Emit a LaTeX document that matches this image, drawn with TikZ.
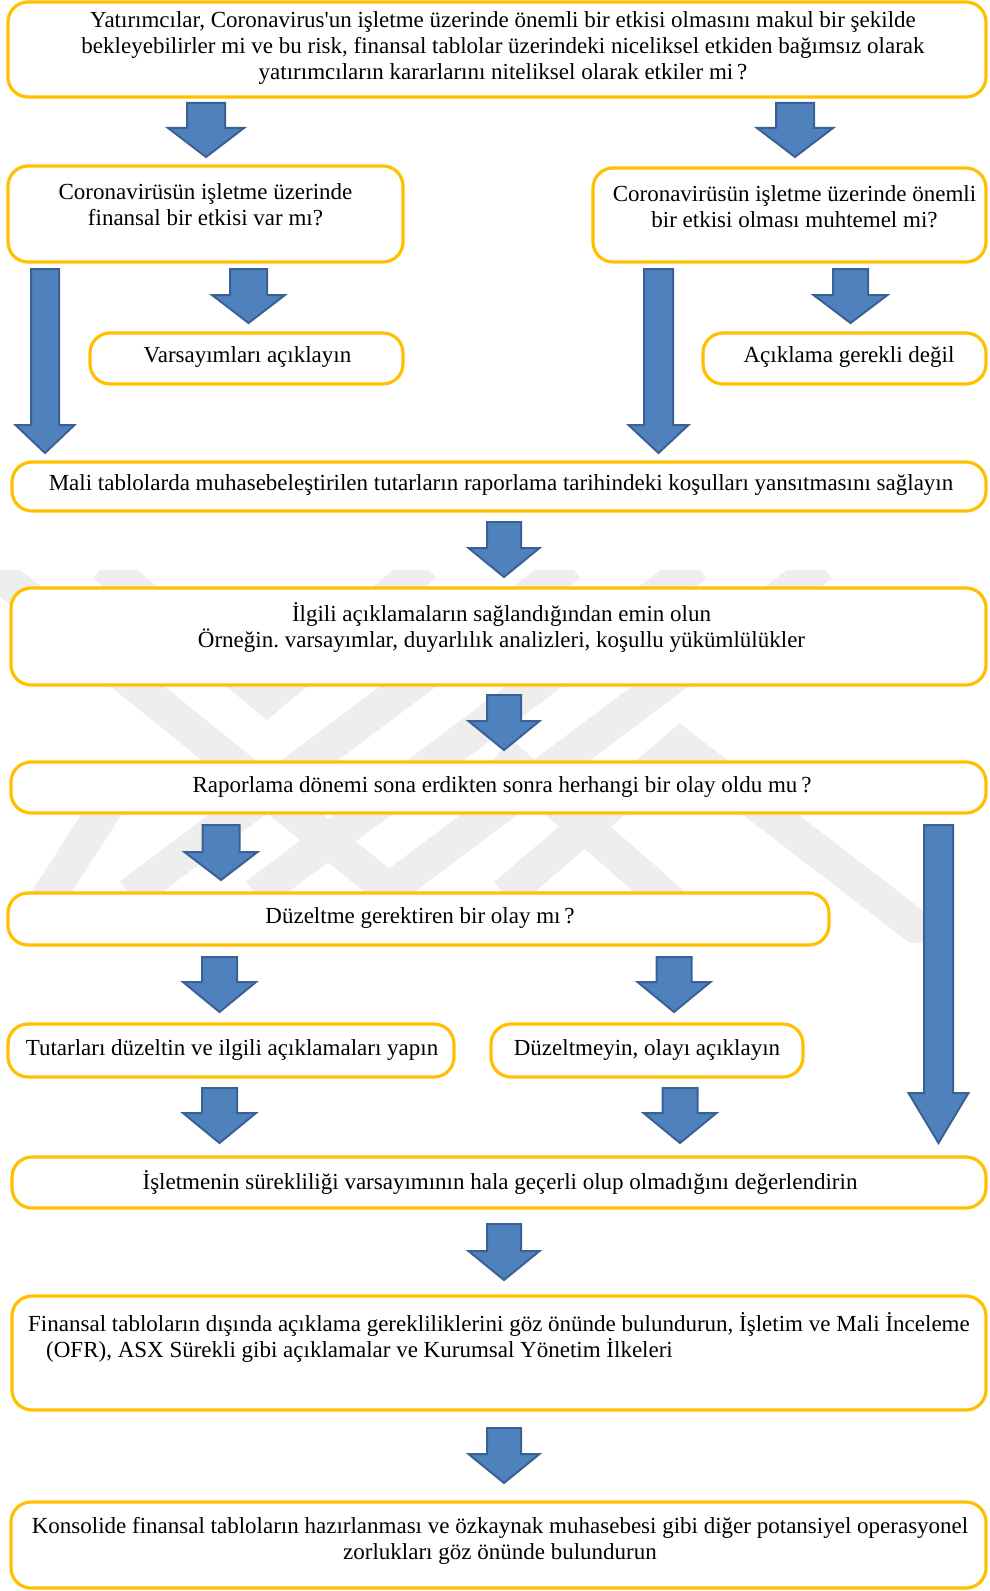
\documentclass[tikz,border=0pt]{standalone}
\usepackage{fontspec}
\setmainfont{Liberation Serif}[Ligatures=TeXOff]
\usetikzlibrary{calc}
\definecolor{gold}{HTML}{FFC000}
\definecolor{ablue}{HTML}{4F81BD}
\definecolor{abluedark}{HTML}{3A6195}
\definecolor{wmgray}{HTML}{EEEEEE}
\tikzset{
  box/.style={draw=gold, fill=white, line width=3.2bp, rounded corners=20bp, inner sep=0pt},
  txt/.style={inner sep=0pt, align=center, font=\fontsize{23bp}{26bp}\selectfont},
  blockarrow/.style={fill=ablue, draw=abluedark, line width=2bp, line join=miter},
  wm/.style={draw=wmgray, line width=34bp, line cap=butt, line join=miter}
}
\newcommand\mkbox[5]{%
  \node[box, minimum width=#4bp-#2bp, minimum height=#5bp-#3bp] (#1) at ({(#2+#4)/2},{(#3+#5)/2}) {};}
\newcommand\barrow[5]{%
  \draw[blockarrow] let \p1=(#1), \p2=(#2) in
  (\x1-#3,\y1) -- (\x1+#3,\y1) -- (\x1+#3,\y2+#5) -- (\x1+#4,\y2+#5) -- (\x1,\y2)
  -- (\x1-#4,\y2+#5) -- (\x1-#3,\y2+#5) -- cycle;}
\begin{document}
\frenchspacing
\begin{tikzpicture}[x=1bp, y=-1bp]
\useasboundingbox (0,0) rectangle (989,1591);
% watermark (behind the boxes)
\begin{scope}
\clip (0,570) rectangle (989,942);
\draw[wm] (-10,567) -- (395,895);
\draw[wm] (104,565) -- (267,698) -- (425,565);
\draw[wm] (570,565) -- (130,895);
\draw[wm] (696,565) -- (256,895);
\draw[wm] (822,565) -- (382,895);
\draw[wm] (505,895) -- (680,745) -- (940,945);
\draw[wm] (500,752) -- (720,945);
\draw[wm] (40,910) -- (130,770);
\end{scope}
% boxes
\mkbox{b1}{8}{2}{986}{97}
\mkbox{b2}{8}{166}{403}{262}
\mkbox{b3}{593}{168}{986}{262}
\mkbox{b4}{90}{333}{403}{384}
\mkbox{b5}{703}{333}{986}{384}
\mkbox{b6}{12}{462}{986}{511}
\mkbox{b7}{11}{588}{986}{685}
\mkbox{b8}{11}{762}{986}{813}
\mkbox{b9}{8}{893}{829}{945}
\mkbox{b10}{8}{1024}{454}{1077}
\mkbox{b11}{491}{1024}{803}{1077}
\mkbox{b12}{12}{1157}{986}{1208}
\mkbox{b13}{12}{1296}{986}{1410}
\mkbox{b14}{11}{1502}{986}{1588}
% texts
\node[txt] (t1) at (503,48) {Yatırımcılar, Coronavirus'un işletme üzerinde önemli bir etkisi olmasını makul bir şekilde\\bekleyebilirler mi ve bu risk, finansal tablolar üzerindeki niceliksel etkiden bağımsız olarak\\yatırımcıların kararlarını niteliksel olarak etkiler mi\,?};
\node[txt] (t2) at (205.5,205) {Coronavirüsün işletme üzerinde\\finansal bir etkisi var mı?};
\node[txt] (t3) at (794.5,206.5) {Coronavirüsün işletme üzerinde önemli\\bir etkisi olması muhtemel mi?};
\node[txt] (t4) at (247.5,357) {Varsayımları açıklayın};
\node[txt] (t5) at (849,357) {Açıklama gerekli değil};
\node[txt] (t6) at (501,485) {Mali tablolarda muhasebeleştirilen tutarların raporlama tarihindeki koşulları yansıtmasını sağlayın};
\node[txt] (t7) at (501.5,627.5) {İlgili açıklamaların sağlandığından emin olun\\Örneğin. varsayımlar, duyarlılık analizleri, koşullu yükümlülükler};
\node[txt] (t8) at (502,787) {Raporlama dönemi sona erdikten sonra herhangi bir olay oldu mu\,?};
\node[txt] (t9) at (420,918) {Düzeltme gerektiren bir olay mı\,?};
\node[txt] (t10) at (232,1050) {Tutarları düzeltin ve ilgili açıklamaları yapın};
\node[txt] (t11) at (647,1050) {Düzeltmeyin, olayı açıklayın};
\node[txt] (t12) at (500,1182) {İşletmenin sürekliliği varsayımının hala geçerli olup olmadığını değerlendirin};
\node[txt, anchor=west, align=left] (t13) at (28,1337.5) {Finansal tabloların dışında açıklama gerekliliklerini göz önünde bulundurun, İşletim ve Mali İnceleme\\\hspace*{18bp}(OFR), ASX Sürekli gibi açıklamalar ve Kurumsal Yönetim İlkeleri};
\node[txt] (t14) at (500,1541) {Konsolide finansal tabloların hazırlanması ve özkaynak muhasebesi gibi diğer potansiyel operasyonel\\zorlukları göz önünde bulundurun};
% arrow coordinates
\coordinate (a1s) at (206,103);   \coordinate (a1e) at (206,157);
\coordinate (a2s) at (795,103);   \coordinate (a2e) at (795,157);
\coordinate (a3s) at (45,269);    \coordinate (a3e) at (45,453);
\coordinate (a4s) at (248.5,269); \coordinate (a4e) at (248.5,323);
\coordinate (a5s) at (658.5,269); \coordinate (a5e) at (658.5,453);
\coordinate (a6s) at (850.5,269); \coordinate (a6e) at (850.5,323);
\coordinate (a7s) at (504,522);   \coordinate (a7e) at (504,577);
\coordinate (a8s) at (504,695);   \coordinate (a8e) at (504,750);
\coordinate (a9s) at (221,825);   \coordinate (a9e) at (221,880);
\coordinate (a10s) at (938.5,825); \coordinate (a10e) at (938.5,1143);
\coordinate (a11s) at (219.5,957); \coordinate (a11e) at (219.5,1012);
\coordinate (a12s) at (674,957);   \coordinate (a12e) at (674,1012);
\coordinate (a13s) at (219.5,1088); \coordinate (a13e) at (219.5,1143);
\coordinate (a14s) at (680,1088);  \coordinate (a14e) at (680,1143);
\coordinate (a15s) at (504,1224);  \coordinate (a15e) at (504,1280);
\coordinate (a16s) at (504,1428);  \coordinate (a16e) at (504,1483);
% arrows
\barrow{a1s}{a1e}{19bp}{38bp}{29bp}
\barrow{a2s}{a2e}{19bp}{38bp}{29bp}
\barrow{a3s}{a3e}{14bp}{29.5bp}{28bp}
\barrow{a4s}{a4e}{18.5bp}{36.5bp}{28bp}
\barrow{a5s}{a5e}{14.5bp}{30bp}{28bp}
\barrow{a6s}{a6e}{17.5bp}{37bp}{28bp}
\barrow{a7s}{a7e}{17bp}{35.5bp}{29bp}
\barrow{a8s}{a8e}{17bp}{35.5bp}{29bp}
\barrow{a9s}{a9e}{18.5bp}{36.5bp}{28bp}
\barrow{a10s}{a10e}{14.5bp}{30bp}{50bp}
\barrow{a11s}{a11e}{17.5bp}{36.5bp}{30bp}
\barrow{a12s}{a12e}{17.5bp}{36.5bp}{30bp}
\barrow{a13s}{a13e}{17.5bp}{36.5bp}{30bp}
\barrow{a14s}{a14e}{17.5bp}{36.5bp}{30bp}
\barrow{a15s}{a15e}{17bp}{35.5bp}{29bp}
\barrow{a16s}{a16e}{17bp}{35.5bp}{29bp}
\end{tikzpicture}
\end{document}
